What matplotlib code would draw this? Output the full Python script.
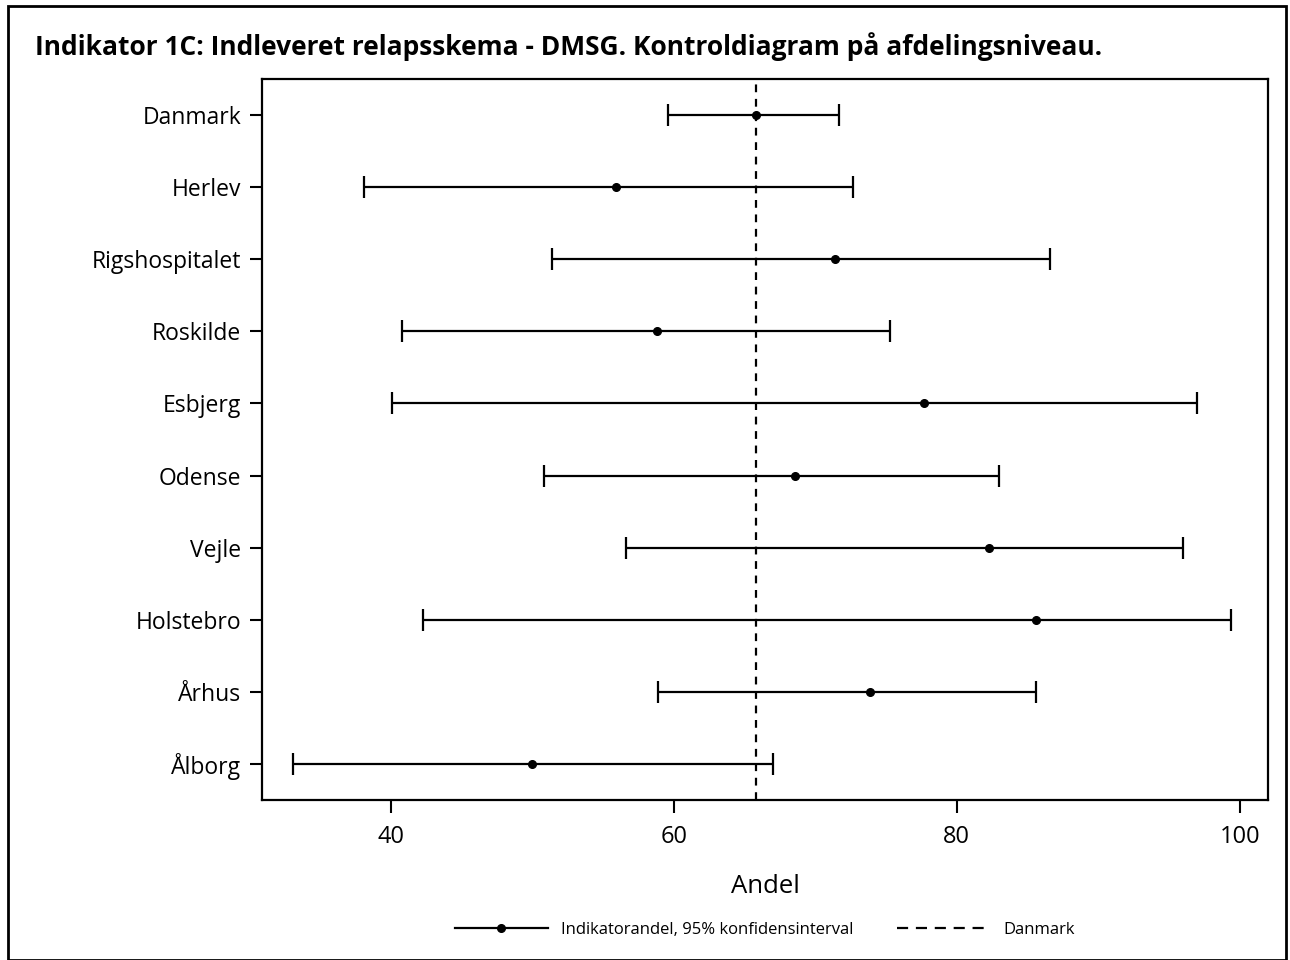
import numpy as np
import matplotlib.pyplot as plt
from matplotlib.lines import Line2D
from matplotlib.patches import Rectangle

plt.rcParams['font.family'] = ['Open Sans', 'DejaVu Sans']

# data
afdelinger = ['Danmark', 'Herlev', 'Rigshospitalet', 'Roskilde', 'Esbjerg',
              'Odense', 'Vejle', 'Holstebro', 'Århus', 'Ålborg']
andel = [65.8, 55.9, 71.4, 58.8, 77.7, 68.6, 82.3, 85.6, 73.9, 50.0]
nedre = [59.6, 38.1, 51.4, 40.8, 40.1, 50.8, 56.6, 42.3, 58.9, 33.1]
oevre = [71.7, 72.7, 86.6, 75.3, 97.0, 83.0, 96.0, 99.4, 85.6, 67.0]
danmark = 65.8

andel = np.array(andel)
fejl = [andel - np.array(nedre), np.array(oevre) - andel]
ypos = np.arange(len(afdelinger))

fig = plt.figure(figsize=(12.9, 9.6), dpi=100)
ax = fig.add_axes([262 / 1290, 1 - 800 / 960, (1268 - 262) / 1290, (800 - 79) / 960])

ax.errorbar(andel, ypos, xerr=fejl, fmt='o', color='black', ms=5.5,
            lw=1.6, capsize=8, capthick=1.6, ecolor='black')
ax.axvline(danmark, color='black', ls=(0, (3.5, 3)), lw=1.6)

ax.set_yticks(ypos)
ax.set_yticklabels(afdelinger, fontsize=16.5)
ax.set_ylim(len(afdelinger) - 0.5, -0.5)
ax.set_xlim(30.9, 102.0)
ax.set_xticks([40, 60, 80, 100])
ax.tick_params(axis='x', labelsize=17, length=9, width=1.5, pad=9)
ax.tick_params(axis='y', length=9, width=1.5, pad=6)
ax.set_xlabel('Andel', fontsize=18.5, labelpad=18)
for s in ax.spines.values():
    s.set_linewidth(1.6)

fig.text(35 / 1290, 1 - 47 / 960,
         'Indikator 1C: Indleveret relapsskema - DMSG. Kontroldiagram på afdelingsniveau.',
         fontsize=19, fontweight='bold', va='center', ha='left')

handles = [Line2D([0, 1, 2], [0, 0, 0], color='black', lw=1.6, marker='o', ms=5.5, markevery=[1]),
           Line2D([0], [0], color='black', lw=1.6, ls=(0, (5, 3.5)))]
fig.legend(handles, ['Indikatorandel, 95% konfidensinterval', 'Danmark'],
           loc='center', bbox_to_anchor=(765 / 1290, 1 - 930 / 960), ncol=2,
           frameon=False, handlelength=5.6, columnspacing=2.6, handletextpad=0.8,
           prop={'size': 12})

fig.patches.append(Rectangle((8 / 1290, 0.0), 1 - 12 / 1290, 1 - 6 / 960,
                             transform=fig.transFigure, fill=False,
                             edgecolor='black', lw=2))

fig.savefig('out.png', dpi=100)
